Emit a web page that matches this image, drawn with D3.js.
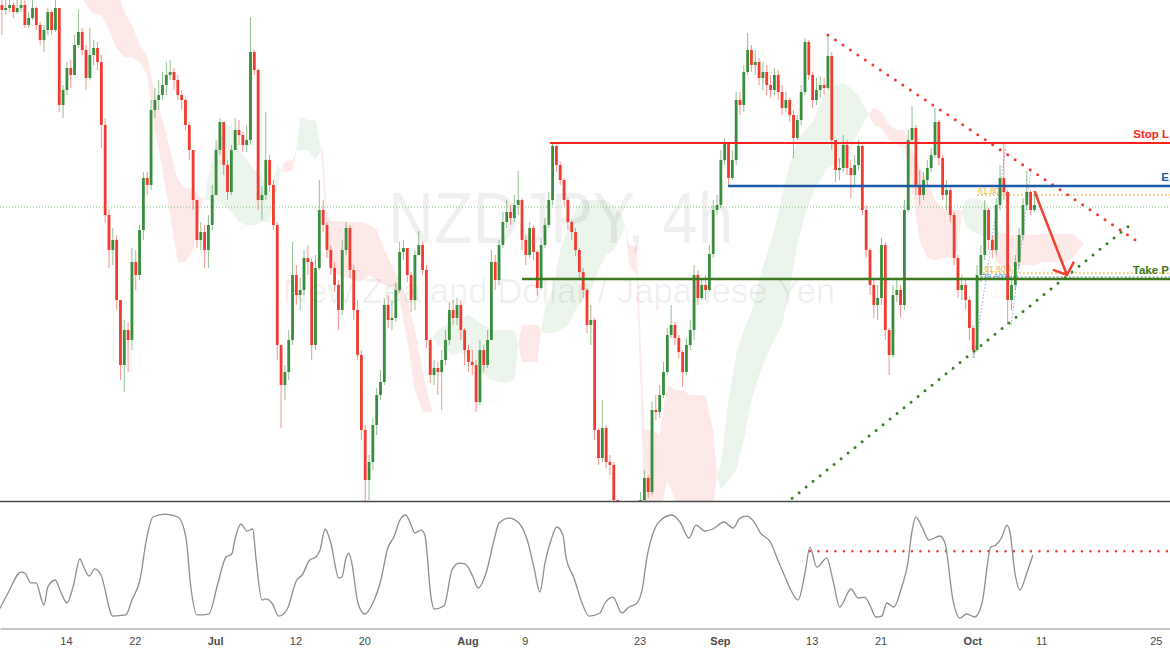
<!DOCTYPE html>
<html><head><meta charset="utf-8">
<script src="https://cdn.jsdelivr.net/npm/d3@7/dist/d3.min.js"></script>
<style>html,body{margin:0;padding:0;background:#fff}svg{display:block}</style>
</head><body>
<svg id="chart" width="1170" height="650"></svg>
<script>
// ---------- DATA (NZDJPY, 8h-aggregated candles) ----------
const firstOpen = 80.95;
const close = [
80.90,80.92,80.95,80.88,80.92,80.95,80.75,80.82,80.92,80.75,
80.60,80.70,80.88,80.70,80.92,79.95,80.10,80.32,80.25,80.55,
80.68,80.50,80.22,80.45,80.52,80.38,79.75,78.85,78.50,78.60,
78.00,77.35,77.70,77.60,78.38,78.25,78.70,79.22,79.15,79.90,
80.00,80.05,80.15,80.25,80.28,80.20,80.05,80.00,79.75,79.50,
79.00,78.60,78.68,78.50,78.75,79.05,79.50,79.78,79.35,79.08,
79.50,79.70,79.65,79.55,79.60,80.48,80.30,79.00,79.05,79.40,
79.15,78.75,77.55,77.15,77.28,77.60,78.25,78.05,78.10,78.42,
78.38,77.55,78.32,78.90,78.75,78.50,78.32,78.15,77.90,78.50,
78.72,78.30,77.90,77.45,76.70,76.20,76.38,76.75,77.05,77.18,
77.95,77.80,77.82,78.10,78.48,78.52,78.25,78.00,78.45,78.55,
78.30,77.60,77.25,77.32,77.28,77.40,77.60,77.90,77.82,77.95,
77.70,77.50,77.38,77.35,76.98,77.50,77.35,77.60,78.38,78.20,
78.55,78.78,78.88,78.82,78.95,79.00,78.60,78.45,78.72,78.48,
78.12,78.55,78.75,79.00,79.54,79.35,79.20,79.00,78.78,78.68,
78.50,78.28,78.10,77.75,77.80,76.70,76.42,76.72,76.38,76.35,
76.00,75.70,75.55,75.65,75.60,75.75,75.85,76.00,76.22,76.08,
76.90,76.88,77.05,77.28,77.65,77.75,77.62,77.48,77.28,77.55,
77.70,78.25,78.02,78.15,78.10,78.46,78.90,78.95,79.40,79.58,
79.22,79.40,80.00,79.95,80.28,80.50,80.35,80.38,80.22,80.28,
80.15,80.10,80.25,80.08,79.92,80.00,79.85,79.62,79.80,80.08,
80.58,80.25,80.00,80.10,80.15,80.12,80.44,79.60,79.30,79.32,
79.55,79.32,79.25,79.35,79.54,78.90,78.50,78.15,77.95,78.02,
78.55,77.70,77.45,78.05,78.10,77.95,78.90,79.60,79.72,79.15,
79.05,79.20,79.32,79.45,79.78,79.42,79.05,79.10,78.85,78.42,
78.10,78.15,78.00,77.72,77.50,78.25,78.45,78.90,78.60,78.50,
78.95,79.22,79.08,78.00,78.15,78.38,78.65,78.95,79.08,78.90,78.95];
const high = [
81.00,81.00,81.00,80.98,81.00,81.00,81.00,80.88,81.00,80.94,
80.78,80.75,80.92,80.90,81.00,80.92,80.15,80.38,80.40,80.65,
80.90,80.72,80.55,80.72,80.60,80.58,80.45,79.82,78.90,78.72,
78.65,78.00,77.80,77.78,78.52,78.50,78.75,79.28,79.28,80.00,
80.12,80.20,80.28,80.38,80.40,80.32,80.25,80.10,80.02,79.78,
79.50,79.00,78.78,78.75,78.85,79.15,79.60,79.82,79.78,79.40,
79.55,79.82,79.80,79.68,79.75,80.83,80.50,80.32,79.14,79.88,
79.45,79.20,78.78,77.55,77.35,77.70,78.58,78.35,78.22,78.50,
78.55,78.42,78.45,79.20,79.00,78.78,78.55,78.38,78.20,78.60,
78.78,78.75,78.35,78.00,77.50,76.75,76.45,76.82,77.12,77.30,
78.02,78.05,78.00,78.18,78.58,78.60,78.50,78.28,78.50,78.69,
78.58,78.35,77.62,77.40,77.38,77.50,77.70,77.98,78.00,78.02,
78.00,77.72,77.55,77.50,77.40,77.60,77.55,77.70,78.50,78.45,
78.60,78.88,79.00,78.95,79.05,79.29,79.02,78.65,78.78,78.75,
78.50,78.62,78.82,79.08,79.58,79.55,79.38,79.22,79.02,78.80,
78.72,78.52,78.32,78.12,77.95,77.82,76.72,77.00,76.75,76.45,
76.38,76.00,75.80,75.80,75.75,75.90,75.95,76.08,76.30,76.25,
76.98,77.05,77.15,77.38,77.72,77.95,77.78,77.65,77.50,77.62,
77.80,78.35,78.30,78.22,78.25,78.55,79.00,79.05,79.50,79.62,
79.55,79.50,80.08,80.08,80.35,80.67,80.55,80.50,80.42,80.38,
80.35,80.25,80.32,80.30,80.15,80.08,80.02,79.90,79.85,80.15,
80.62,80.60,80.28,80.22,80.24,80.22,80.64,80.48,79.60,79.42,
79.65,79.60,79.40,79.45,79.60,79.55,78.95,78.52,78.20,78.15,
78.62,78.58,77.72,78.15,78.20,78.15,79.00,79.70,79.94,79.75,
79.30,79.28,79.40,79.52,79.92,79.80,79.45,79.20,79.15,78.88,
78.45,78.25,78.22,78.02,77.75,78.35,78.55,79.00,78.92,78.65,
79.02,79.35,79.56,79.10,78.25,78.45,78.72,79.02,79.29,79.10,79.05];
const low = [
80.65,80.85,80.88,80.82,80.86,80.88,80.72,80.72,80.80,80.70,
80.55,80.48,80.65,80.65,80.68,79.88,79.82,80.05,80.12,80.25,
80.52,80.45,80.10,80.20,80.35,80.30,79.52,78.78,78.32,78.35,
77.90,77.20,77.08,77.28,77.50,78.10,78.20,78.60,79.05,79.10,
79.82,79.90,80.00,80.05,80.20,80.10,80.00,79.90,79.70,79.40,
78.90,78.52,78.50,78.32,78.32,78.70,79.05,79.45,79.25,79.00,
79.05,79.50,79.55,79.48,79.48,79.55,80.25,78.90,78.80,79.00,
79.08,78.70,77.40,76.72,77.00,77.20,77.55,77.95,77.90,78.05,
78.25,77.40,77.50,78.30,78.68,78.42,78.25,78.08,77.70,77.85,
78.45,78.22,77.80,77.40,76.60,75.95,76.00,76.30,76.65,77.00,
77.15,77.72,77.70,77.78,78.08,78.40,78.18,77.88,77.90,78.45,
78.25,77.52,77.17,77.15,77.05,76.90,77.35,77.55,77.75,77.75,
77.60,77.35,77.28,77.25,76.88,76.95,77.28,77.32,77.80,78.10,
78.15,78.52,78.72,78.75,78.78,78.85,78.50,78.35,78.42,78.40,
78.04,78.10,78.52,78.72,78.95,79.28,79.15,78.94,78.70,78.60,
78.44,78.20,78.02,77.67,77.55,76.60,76.35,76.38,76.32,76.25,
75.80,75.55,75.40,75.45,75.45,75.55,75.70,75.80,75.95,76.02,
76.05,76.80,76.82,77.02,77.25,77.62,77.55,77.42,77.13,77.25,
77.50,77.60,77.95,78.00,78.00,78.08,78.42,78.85,78.92,79.35,
79.14,79.20,79.35,79.85,79.88,80.25,80.28,80.25,80.15,80.10,
80.05,80.02,80.05,80.00,79.85,79.88,79.78,79.42,79.60,79.75,
80.05,80.20,79.92,79.95,80.02,80.05,80.10,79.50,79.18,79.20,
79.28,79.25,79.02,79.15,79.30,78.85,78.42,78.05,77.82,77.80,
77.95,77.60,77.25,77.42,77.98,77.82,77.90,78.88,79.55,79.05,
78.95,79.00,79.15,79.28,79.42,79.35,79.00,78.90,78.78,78.35,
78.02,78.00,77.90,77.60,77.42,77.48,78.18,78.40,78.50,78.42,
78.45,78.90,79.00,77.75,77.90,78.10,78.32,78.60,78.90,78.85,78.88];

// Ichimoku cloud (candle index, Senkou span A, Senkou span B)
const cloudIdx = [20,22,24,26,28,30,32,34,36,38,40,42,44,46,48,50,52,53,54,56,58,60,62,64,66,68,70,72,73,74,76,77,78,80,82,83.5,84,85,86,88,90,92,94,96,98,100,102,104,106,108,110,112,112.5,112.6,114,116,118,120,122,124,126,128,130,132,134,135,136,138,140,141,142,144,146,148,150,152,154,156,158,160,162,163,164,166,168,170,172,174,176,178,180,182,184,186,187,188,190,192,194,196,198,200,202,204,206,208,210,212,214,216,218,220,222,224,226,226.7,228,230,232,234,236,238,240,242,244,246,248,250,251,252,254,256,258,259,260,262,264,266,268,270,272,274,276,278,280,282,283];
const spanA = [81.10,80.95,80.86,80.85,80.70,80.52,80.43,80.43,80.38,80.25,79.70,79.30,78.85,78.38,78.38,78.50,78.94,79.00,79.25,79.55,79.72,79.74,79.50,79.40,79.30,79.25,79.05,79.37,79.30,79.28,79.30,79.50,79.83,79.80,79.80,79.50,79.25,78.50,78.30,78.25,78.22,78.20,78.18,78.25,78.20,78.15,78.12,78.00,77.60,77.10,76.88,76.88,76.90,77.62,77.70,77.75,77.80,77.82,77.85,77.80,77.75,77.70,77.70,77.70,77.70,77.56,77.38,77.38,77.38,77.70,77.92,78.10,78.50,78.70,78.90,79.00,79.00,79.00,79.00,78.95,78.85,78.75,78.35,78.25,76.00,75.90,75.85,76.20,76.00,75.95,75.90,75.90,75.95,75.95,76.25,76.35,77.00,77.45,77.70,77.88,78.20,78.45,78.70,79.05,79.35,79.60,79.70,79.78,79.95,80.12,80.15,80.17,80.12,80.04,79.90,79.86,79.75,79.72,79.60,79.55,79.52,79.10,78.60,78.42,78.40,78.42,78.42,78.50,78.88,79.00,79.02,79.00,78.95,78.62,78.38,78.33,78.33,78.34,78.35,78.35,78.38,78.38,78.38,78.38,78.42,78.52,78.56];
const spanB = [81.10,81.10,81.10,81.10,81.10,81.10,80.88,80.75,80.55,80.45,80.05,79.80,79.50,79.20,79.12,79.12,79.02,79.00,79.00,78.95,78.95,78.88,78.78,78.75,78.75,78.78,78.78,79.13,79.30,79.38,79.40,79.50,79.50,79.50,79.40,79.50,79.50,78.85,78.79,78.79,78.78,78.78,78.78,78.75,78.70,78.50,78.35,78.20,78.00,77.70,77.30,76.95,76.90,77.62,77.55,77.50,77.45,77.48,77.40,77.30,77.25,77.20,77.18,77.17,77.20,77.56,77.75,77.75,77.75,77.70,77.67,77.67,77.70,77.75,77.90,78.00,78.10,78.30,78.45,78.50,78.65,78.75,78.55,78.54,76.70,76.70,76.65,77.15,77.10,77.10,77.05,77.05,77.04,76.70,76.25,76.10,76.20,76.30,76.60,77.00,77.25,77.45,77.60,77.75,78.10,78.55,78.85,79.05,79.20,79.32,79.35,79.38,79.50,79.68,79.82,79.86,79.92,79.88,79.75,79.70,79.70,79.50,79.32,79.20,79.00,78.92,78.90,78.90,78.88,78.75,78.68,78.65,78.60,78.62,78.68,78.67,78.65,78.65,78.65,78.65,78.66,78.66,78.66,78.66,78.66,78.60,78.56];

// oscillator pane (candle index, value 0-100)
const oscIdx = [-0.5,1.6,5.0,6.0,7.6,8.9,11.0,12.0,13.9,15.4,17.0,18.6,20.4,21.4,22.8,24.3,25.9,29.0,32.4,34.0,36.1,37.9,39.5,42.6,46.0,48.1,49.4,51.0,54.1,56.5,58.6,60.1,60.9,62.5,64.1,65.6,66.4,68.0,69.0,70.6,72.4,74.5,77.1,78.5,80.5,82.1,83.2,84.5,86.0,88.1,88.9,90.0,90.7,91.5,93.1,94.9,97.0,99.1,100.9,102.5,104.1,105.6,107.0,108.0,109.6,110.6,112.2,113.0,115.6,117.7,119.5,121.1,123.2,124.5,126.6,128.7,130.0,132.6,135.2,137.6,139.1,140.7,142.0,143.6,145.1,146.7,147.5,149.6,151.7,153.5,156.4,157.7,159.8,162.1,164.0,165.8,167.4,168.7,170.8,172.6,175.2,177.3,179.7,181.5,183.8,185.9,188.8,191.2,193.0,194.8,196.9,198.2,201.1,202.9,204.8,206.3,208.2,210.0,211.3,213.1,215.7,217.3,219.1,222.0,223.9,225.7,227.2,228.5,230.1,231.4,233.2,235.3,236.9,237.9,239.0,240.6,242.4,245.3,246.6,248.7,250.5,252.3,254.4,256.3,258.6,259.9,261.5,262.8,263.6,264.9,266.2,268.0,269.6];
const oscVal = [10,24.5,44.3,43.4,34,34,13.2,30.2,36.8,25.5,15.1,30.2,56.6,49,40.5,47.2,41.5,2.8,3.8,17.9,36.8,77.3,96.2,99,96.2,77.3,30.2,3.8,4.7,34,58.5,61.3,74.5,89.6,83,84.9,58.5,17.9,18.9,15.1,2.8,8.5,36.8,41.5,55.6,58.5,65.1,84.9,71.7,38.7,39.6,57.5,62.2,52.8,15.1,4.7,15.1,36.8,67,77.3,93.4,98.1,88.6,81.1,83.9,79.2,20.7,9.4,12.3,46.2,52.8,51.9,39.6,29.2,43.4,74.5,90.5,95.2,90.5,71.7,49,25.5,52.8,74.5,86.8,79.2,58.5,38.7,15.1,2.8,5.7,15.1,20.7,5.7,11.3,14.1,27.3,58.5,85.8,94.3,98.1,91.5,76.4,88.6,83,84.9,91.5,85.8,95.2,97.1,90.5,82,71.7,55.6,39.6,27.3,17.9,43.4,67.9,49,57.5,36.8,11.3,28.3,19.8,20.7,11.3,1.9,2.8,15.1,11.3,30.2,52.8,81.1,96.2,86.8,74.5,78.3,71.7,17.9,0.9,4.7,1.9,15.1,67.9,69.8,77.3,88.6,82,43.4,27.3,43.4,60.4];
const oscLevel = 64, oscLevelStart = 211.3;

// time axis
const tickLabels = ["14","22","Jul","12","20","Aug","9","23","Sep","13","21","Oct","11","25"];
const tickDates = ["2021-06-14","2021-06-22","2021-07-01","2021-07-12","2021-07-20","2021-08-02","2021-08-09","2021-08-23","2021-09-01","2021-09-13","2021-09-21","2021-10-01","2021-10-11","2021-10-25"];

// trade levels (labels as visible at the right edge of the picture)
const levelNames = ["Stop L","E","Take P"];
const levelPrices = [79.57, 79.14, 78.21];
const levelStart = [143.3, 189.9, 136.0];
const lastPrice = 78.93;
// fibonacci
const fibLabels = ["61.80%","61.80%","78.60%"];
const fibPrices = [79.05, 78.27, 78.23];
const fibStart = [255.0, 256.6, 256.0];
const fibDiag1 = [[254.2,77.42],[262.6,79.54]];
const fibDiag2 = [[263.9,77.75],[269.1,79.29]];
// trend lines & projection arrow
const redTrend = [[216.0,80.65],[297.6,78.57]];
const greenTrend = [[204.8,75.96],[294.7,78.74]];
const arrowPts = [[270.1,79.08],[278.5,78.25]];

// ---------- DRAW ----------
const W = 1170, H = 650, PANE = 501;
const svg = d3.select("#chart");
const x = d3.scaleLinear().domain([-0.5, 305.45]).range([0, W]);
const y = d3.scaleLinear().domain([76, 81]).range([500, 0]);
const yo = d3.scaleLinear().domain([0, 100]).range([619, 513]);
const FONT = "'Liberation Sans', Arial, sans-serif";

svg.append("defs").append("clipPath").attr("id","pc")
  .append("rect").attr("x",0).attr("y",0).attr("width",W).attr("height",PANE);
const pane = svg.append("g").attr("clip-path","url(#pc)");

// cloud
const cp = cloudIdx.map((k,i)=>({k, a:spanA[i], b:spanB[i]}));
const runs = []; let cur = null;
for (let i=0;i<cp.length-1;i++){
  const s = (cp[i].a+cp[i+1].a)-(cp[i].b+cp[i+1].b);
  const col = s>1e-9 ? "g" : (s<-1e-9 ? "r" : null);
  if(!col){cur=null;continue;}
  if(cur && cur.col===col && cur.end===i){cur.pts.push(cp[i+1]);cur.end=i+1;}
  else {cur={col,pts:[cp[i],cp[i+1]],end:i+1};runs.push(cur);}
}
const area = d3.area().x(d=>x(d.k)).y0(d=>y(d.a)).y1(d=>y(d.b));
pane.selectAll("path.cloud").data(runs).join("path").attr("class","cloud")
  .attr("d",d=>area(d.pts)).attr("fill",d=>d.col==="g"?"#ebf5ec":"#fde9e7");

// watermark
pane.append("text").attr("x",388).attr("y",243).attr("font-family",FONT)
  .attr("font-size",72).attr("textLength",345).attr("lengthAdjust","spacingAndGlyphs")
  .attr("fill","rgba(0,0,0,0.06)").text("NZDJPY, 4h");
pane.append("text").attr("x",283).attr("y",303).attr("font-family",FONT)
  .attr("font-size",35).attr("textLength",552).attr("lengthAdjust","spacingAndGlyphs")
  .attr("fill","rgba(0,0,0,0.06)").text("New Zealand Dollar / Japanese Yen");

// last price dotted line
pane.append("line").attr("x1",0).attr("x2",W).attr("y1",y(lastPrice)).attr("y2",y(lastPrice))
  .attr("stroke","#7cc47c").attr("stroke-width",1).attr("stroke-dasharray","1,2");

// fib levels
const fibCols = ["#f3b33d","#f3b33d","#5b9be0"];
fibPrices.forEach((p,i)=>{
  pane.append("line").attr("x1",x(fibStart[i])).attr("x2",W).attr("y1",y(p)).attr("y2",y(p))
    .attr("stroke",fibCols[i]).attr("stroke-width",1.5).attr("stroke-dasharray","1.5,2.5");
  pane.append("text").attr("x",x(fibStart[i])+1).attr("y",y(p)+(i===2?3:-1))
    .attr("font-family",FONT).attr("font-size",8.5).attr("fill",fibCols[i]).text(fibLabels[i]);
});
[fibDiag1,fibDiag2].forEach(seg=>{
  pane.append("line").attr("x1",x(seg[0][0])).attr("y1",y(seg[0][1]))
    .attr("x2",x(seg[1][0])).attr("y2",y(seg[1][1]))
    .attr("stroke","#7fb0e8").attr("stroke-width",1).attr("stroke-dasharray","1.5,2");
});

// candles
const UP = "#388e3c", DN = "#f23b2e";
const candles = close.map((c,i)=>({i, o: i===0?firstOpen:close[i-1], h: high[i], l: low[i], c}));
const cg = pane.append("g");
cg.selectAll("line.w").data(candles).join("line").attr("class","w")
  .attr("x1",d=>x(d.i)).attr("x2",d=>x(d.i))
  .attr("y1",d=>y(Math.max(d.h,d.o,d.c))).attr("y2",d=>y(Math.min(d.l,d.o,d.c)))
  .attr("stroke",d=>d.c>=d.o?UP:DN).attr("stroke-opacity",0.55).attr("stroke-width",1);
cg.selectAll("rect.b").data(candles).join("rect").attr("class","b")
  .attr("x",d=>x(d.i)-1.4).attr("width",2.8)
  .attr("y",d=>y(Math.max(d.o,d.c)))
  .attr("height",d=>Math.max(1,Math.abs(y(d.o)-y(d.c))))
  .attr("fill",d=>d.c>=d.o?UP:DN);

// trend lines (dotted)
function dotted(seg,col){
  pane.append("line").attr("x1",x(seg[0][0])).attr("y1",y(seg[0][1]))
    .attr("x2",x(seg[1][0])).attr("y2",y(seg[1][1]))
    .attr("stroke",col).attr("stroke-width",3).attr("stroke-linecap","round")
    .attr("stroke-dasharray","0,9");
}
dotted(redTrend,"#ef3a2c");
dotted(greenTrend,"#3b7d22");

// trade levels
const levelCols = ["#ff2020","#1d5aa3","#3b7a1c"];
const levelW = [2,2.5,2.5];
levelPrices.forEach((p,i)=>{
  pane.append("line").attr("x1",x(levelStart[i])).attr("x2",W).attr("y1",y(p)).attr("y2",y(p))
    .attr("stroke",levelCols[i]).attr("stroke-width",levelW[i]);
});
levelNames.forEach((t,i)=>{
  pane.append("text").attr("x",W-1).attr("y",y(levelPrices[i])-5).attr("text-anchor","end")
    .attr("font-family",FONT).attr("font-size",11.5).attr("font-weight","bold")
    .attr("fill",levelCols[i]).text(t);
});

// projection arrow
{
  const x1=x(arrowPts[0][0]), y1=y(arrowPts[0][1]), x2=x(arrowPts[1][0]), y2=y(arrowPts[1][1]);
  const ang = Math.atan2(y1-y2, x1-x2), L=14, hw=0.85;
  const g = pane.append("g").attr("stroke","#f2402f").attr("stroke-width",2.5).attr("stroke-linecap","round").attr("fill","none");
  g.append("line").attr("x1",x1).attr("y1",y1).attr("x2",x2).attr("y2",y2);
  g.append("polyline").attr("points",
    [[x2+L*Math.cos(ang-hw), y2+L*Math.sin(ang-hw)],[x2,y2],[x2+L*Math.cos(ang+hw), y2+L*Math.sin(ang+hw)]].map(p=>p.join(",")).join(" "));
}

// pane separator
svg.append("line").attr("x1",0).attr("x2",W).attr("y1",PANE+0.5).attr("y2",PANE+0.5)
  .attr("stroke","#4a4a4a").attr("stroke-width",1.5);

// oscillator
svg.append("line").attr("x1",x(oscLevelStart)).attr("x2",W).attr("y1",yo(oscLevel)).attr("y2",yo(oscLevel))
  .attr("stroke","#ef3a2c").attr("stroke-width",2.5).attr("stroke-linecap","round").attr("stroke-dasharray","0,8.5");
const osc = oscIdx.map((k,i)=>({k,v:oscVal[i]}));
svg.append("path").datum(osc)
  .attr("d",d3.line().x(d=>x(d.k)).y(d=>yo(d.v)).curve(d3.curveMonotoneX))
  .attr("fill","none").attr("stroke","#8d8d8d").attr("stroke-width",1.3);

// time axis
function tradingDays(s){
  const t0=Date.UTC(2021,5,14); const [Y,M,D]=s.split("-").map(Number); const t=Date.UTC(Y,M-1,D);
  let n=0; for(let d=t0; d<t; d+=864e5){const w=new Date(d).getUTCDay(); if(w!==0&&w!==6) n++;} return n;
}
const tickIdx = tickDates.map(s=>3*tradingDays(s)+16.75);
const axis = d3.axisBottom(x).tickValues(tickIdx).tickFormat((d,i)=>tickLabels[i]).tickSize(0).tickSizeOuter(0).tickPadding(9);
const ax = svg.append("g").attr("transform","translate(0,628.5)").call(axis);
ax.select(".domain").attr("stroke","#8a8a8a").attr("stroke-width",1.2);
ax.selectAll("text").attr("font-family",FONT).attr("font-size",11).attr("fill","#4a4a4a")
  .attr("font-weight",(d,i)=>isNaN(+tickLabels[i])?"bold":"normal");
</script>
</body></html>
